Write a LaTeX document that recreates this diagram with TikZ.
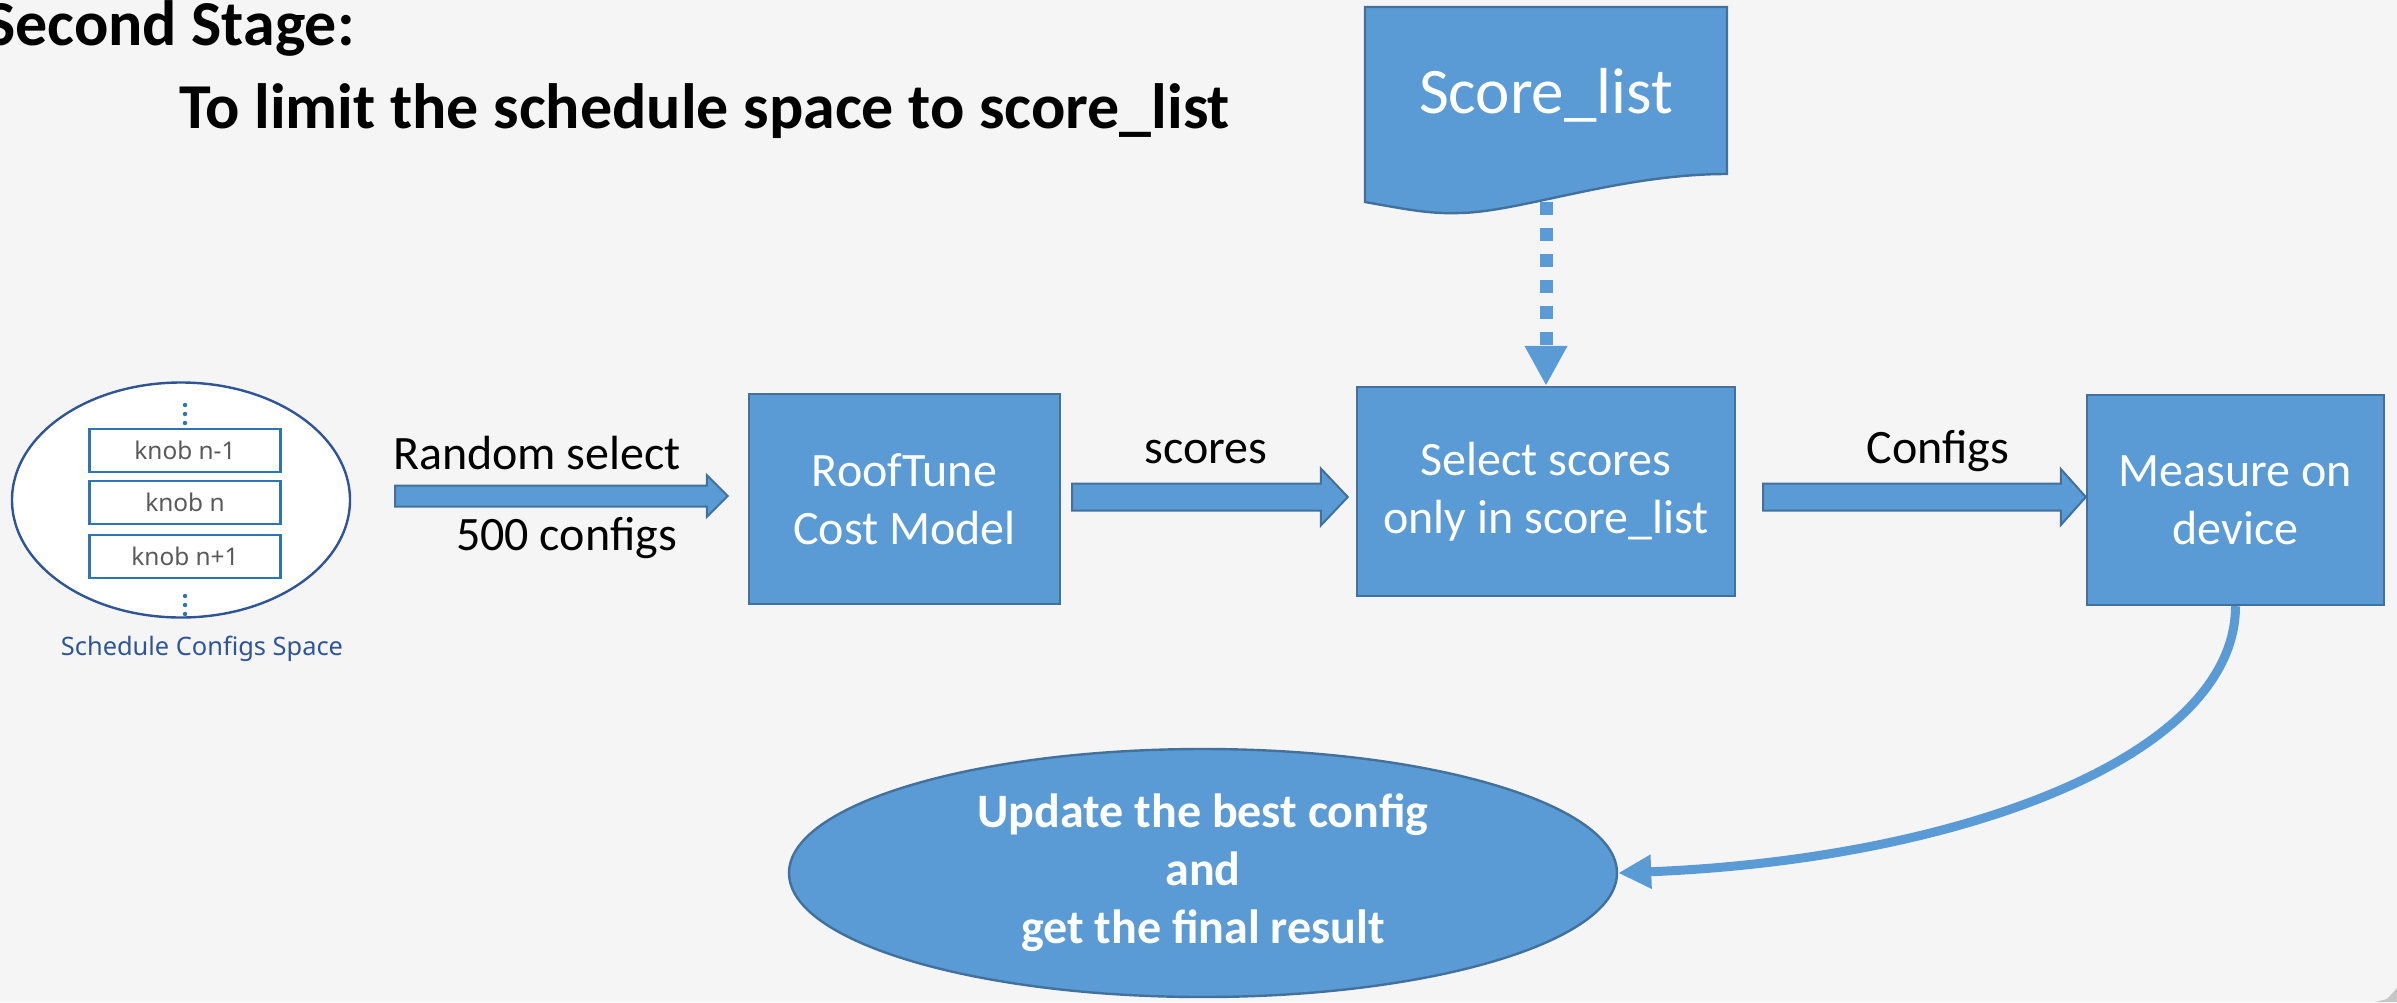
\documentclass[tikz,border=0pt]{standalone}
\usepackage{fontspec}
\setmainfont{Carlito}
\newfontfamily\knobfont{Noto Sans}
\usetikzlibrary{calc,arrows.meta,shapes.geometric}
\definecolor{bg}{HTML}{F5F5F5}
\definecolor{boxfill}{HTML}{5B9BD5}
\definecolor{boxline}{HTML}{41719C}
\definecolor{knobline}{HTML}{2E75B6}
\definecolor{ellline}{HTML}{2F5597}
\definecolor{knobtext}{HTML}{595959}
\definecolor{captext}{HTML}{2F5597}
\newcommand\blockarrow[5]{%
  \draw[blockarr] ($(#1)+(0,-#3)$) -- ($(#2)+(-#5,-#3)$) -- ($(#2)+(-#5,-#4)$) -- (#2) -- ($(#2)+(-#5,#4)$) -- ($(#2)+(-#5,#3)$) -- ($(#1)+(0,#3)$) -- cycle;}
\begin{document}
\begin{tikzpicture}[x=0.5pt,y=-0.5pt,
  bluebox/.style={draw=boxline, fill=boxfill, line width=1.2pt, rectangle, text=white, align=center, font=\fontsize{24}{29}\selectfont, inner sep=0pt},
  knobbox/.style={draw=knobline, fill=white, line width=1.4pt, rectangle, minimum width=95.5pt, minimum height=21.5pt, inner sep=0pt, font=\knobfont\fontsize{12.2}{14}\selectfont, text=knobtext},
  lbl/.style={font=\fontsize{24}{29}\selectfont, text=black, inner sep=0pt, anchor=base},
  blockarr/.style={draw=boxline, fill=boxfill, line width=1pt, line join=miter},
  dotarr/.style={draw=boxfill, line width=6.5pt, dash pattern=on 6.5pt off 6.5pt, -{Triangle[width=20pt,length=20pt]}},
  curvearr/.style={draw=boxfill, line width=4.5pt, -{Triangle[length=16.5pt,width=16pt]}},
  titlefont/.style={font=\bfseries\fontsize{32}{38}\selectfont, inner sep=0pt, text=black}
]
\fill[bg] (0,0) rectangle (2397,1002);
\useasboundingbox (0,0) rectangle (2397,1002);

% titles
\node[titlefont, anchor=base east] (t1) at (355,45) {Second Stage:};
\node[titlefont, anchor=base west] (t2) at (179,128) {To limit the schedule space to score\_list};

% schedule configs space
\node[ellipse, draw=ellline, fill=white, line width=1.2pt, minimum width=169pt, minimum height=117.5pt, inner sep=0pt] (space) at (181,500) {};
\node[knobbox] (k1) at (185,450.5) {knob n-1};
\node[knobbox] (k2) at (185,502.5) {knob n};
\node[knobbox] (k3) at (185,556.5) {knob n+1};
\foreach \yy in {405,414,423,596,605,614} \fill[knobline] (185,\yy) circle (1.1pt);
\node[font=\knobfont\fontsize{12.7}{15}\selectfont, text=captext, inner sep=0pt] (cap) at (202,649) {Schedule Configs Space};

% boxes
\node[bluebox, minimum width=155.5pt, minimum height=105pt] (roof) at (904.5,499) {RoofTune\\Cost Model};
\node[bluebox, minimum width=189pt, minimum height=104.5pt] (sel) at (1546,491.5) {Select scores\\only in score\_list};
\node[bluebox, minimum width=148.5pt, minimum height=105pt] (meas) at (2235.5,500) {Measure on\\device};

% score list document
\draw[draw=boxline, fill=boxfill, line width=1.2pt] (1365,7) -- (1727,7) -- (1727,174) .. controls (1620,174) and (1520,212) .. (1460,213) .. controls (1430,214) and (1410,210) .. (1365,202) -- cycle;
\node[font=\fontsize{32.5}{39}\selectfont, text=white, inner sep=0pt] (doc) at (1546,95) {Score\_list};
\coordinate (docb) at (1546,202);
\draw[dotarr] (docb) -- (sel.north);

% final ellipse
\node[ellipse, draw=boxline, fill=boxfill, line width=1.2pt, minimum width=414pt, minimum height=124pt, inner sep=0pt, text=white, align=center, font=\bfseries\fontsize{24}{29}\selectfont] (upd) at (1203,873) {Update the best config\\and\\get the final result};

% block arrows
\coordinate (a1s) at ($(space.east)+(44,-4)$);
\coordinate (a1e) at ($(roof.west)+(-20,-3)$);
\coordinate (a2s) at ($(roof.east)+(11,-2)$);
\coordinate (a2e) at ($(sel.west)+(-8,5.5)$);
\coordinate (a3s) at ($(sel.east)+(27,5.5)$);
\coordinate (a3e) at ($(meas.west)+(0,-3)$);
\blockarrow{a1s}{a1e}{10.5}{21}{21}
\blockarrow{a2s}{a2e}{13.5}{28.5}{27}
\blockarrow{a3s}{a3e}{13.5}{28}{25}

% labels
\node[lbl] (l1) at (537,469) {Random select};
\node[lbl] (l2) at (566.5,550) {500 configs};
\node[lbl] (l3) at (1206,463) {scores};
\node[lbl] (l4) at (1938,463) {Configs};

% curved arrow
\draw[curvearr] (meas.south) .. controls (2235,760) and (1950,860) .. (upd.east);

% corner mark
\fill[gray!45] (2375,1002) -- (2387,999) -- (2397,988) -- (2397,1002) -- cycle;
\end{tikzpicture}
\end{document}
